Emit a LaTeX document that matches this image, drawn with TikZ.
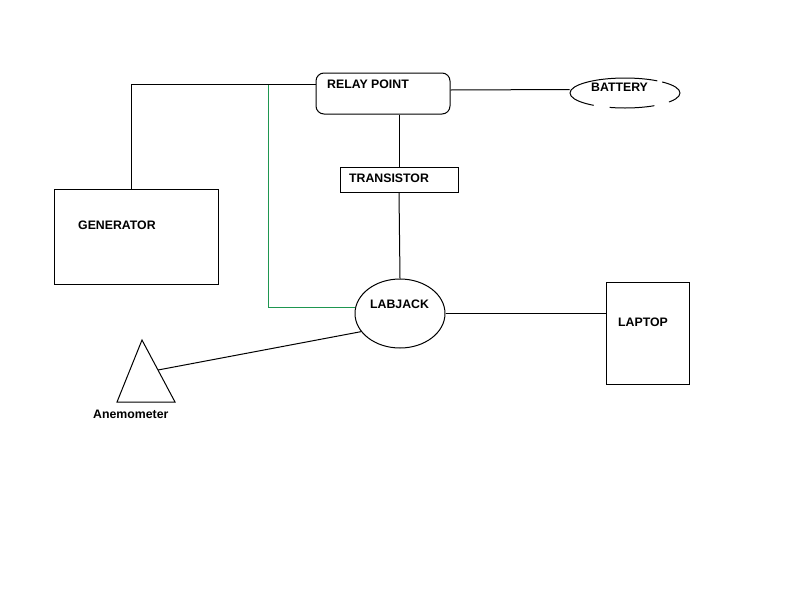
\documentclass[tikz,border=0pt]{standalone}
\usepackage{fontspec}
\setmainfont{Liberation Sans}
\usetikzlibrary{shapes.geometric}
\definecolor{wiregreen}{RGB}{30,150,80}
\begin{document}
\begin{tikzpicture}[x=1pt,y=-1pt,
  wire/.style={line width=1pt,black},
  gwire/.style={line width=1pt,wiregreen},
  boxnode/.style={draw,line width=1pt,inner sep=0pt,minimum width=#1},
  ellnode/.style={draw,ellipse,line width=1pt,inner sep=0pt},
  lbl/.style={anchor=west,inner sep=0pt,font=\fontsize{12.3}{14}\selectfont\bfseries}]
\useasboundingbox[fill=white] (0,0) rectangle (810,600);
% boxes
\node[boxnode=134pt,minimum height=41pt,rounded corners=8pt] (relay) at (383,93.5) {};
\node[ellnode,minimum width=110pt,minimum height=30pt,dash pattern=on 22pt off 5pt on 120pt off 16pt on 45pt off 15pt on 40pt] (battery) at (625,93) {};
\node[boxnode=118pt,minimum height=25pt] (trans) at (399,179.5) {};
\node[ellnode,minimum width=90pt,minimum height=69pt] (lab) at (400,313.5) {};
\node[boxnode=83pt,minimum height=102pt] (laptop) at (647.5,333) {};
\node[boxnode=164pt,minimum height=95pt] (gen) at (136,236.5) {};
\coordinate (ta) at (142,340);
\coordinate (tl) at (117,402);
\coordinate (tr) at (175,402);
\draw[wire] (ta) -- (tl) -- (tr) -- cycle;
% labels
\node[lbl] (trelay) at (327,84) {RELAY POINT};
\node[lbl] (tbat) at (591,87) {BATTERY};
\node[lbl] (ttrans) at (349,178) {TRANSISTOR};
\node[lbl] (tlab) at (370,304) {LABJACK};
\node[lbl] (tlap) at (618,322) {LAPTOP};
\node[lbl] (tgen) at (78,225) {GENERATOR};
\node[lbl] (tane) at (93,414) {Anemometer};
% wires
\coordinate (g1) at (268,84);
\coordinate (an) at (158,370);
\draw[gwire] (g1) |- (lab.173);
\draw[wire] ([xshift=-5pt]gen.north) |- ([yshift=9.5pt]relay.west);
\draw[wire] ([yshift=3.5pt]relay.east) -- ([yshift=3.5pt]battery.west);
\draw[wire] (trans.north |- relay.south) -- (trans.north);
\draw[wire] (trans.south) -- (lab.north);
\draw[wire] (lab.east) -- (lab.east -| laptop.west);
\draw[wire] (an) -- (lab.205);
\end{tikzpicture}
\end{document}
